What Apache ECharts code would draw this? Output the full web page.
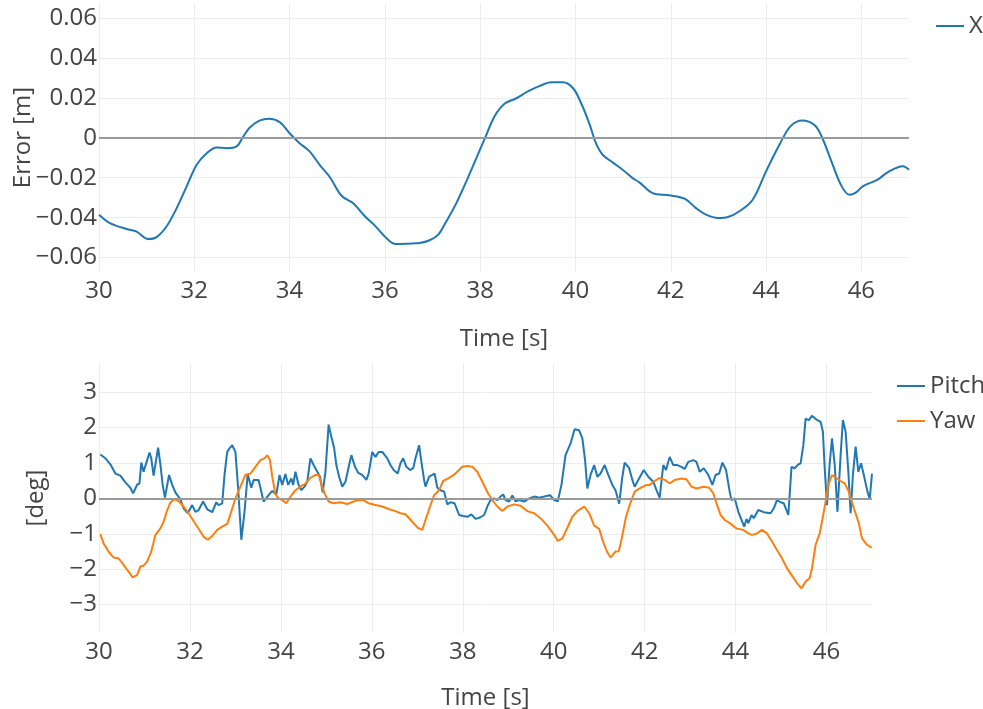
<!DOCTYPE html>
<html>
<head>
<meta charset="utf-8">
<script src="https://cdn.jsdelivr.net/npm/echarts@6/dist/echarts.min.js"></script>
<style>
html,body{margin:0;padding:0;background:#fff;}
#chart{width:983px;height:709px;}
</style>
</head>
<body>
<div id="chart"></div>
<script>
// ---------- Data ----------
var tX = [30.0,30.23,30.58,30.79,31.03,31.21,31.42,31.63,31.84,32.05,
32.26,32.47,32.68,32.89,33.03,33.17,33.38,33.57,33.80,34.0,
34.21,34.42,34.63,34.84,35.09,35.33,35.58,35.79,36.03,36.23,
36.49,36.73,36.94,37.12,37.29,37.50,37.71,37.92,38.13,38.30,
38.51,38.76,39.0,39.25,39.49,39.74,39.95,40.12,40.30,40.43,
40.57,40.78,40.99,41.20,41.34,41.62,41.97,42.29,42.53,42.74,
42.99,43.20,43.44,43.72,44.0,44.28,44.52,44.77,45.01,45.15,
45.36,45.57,45.75,45.89,46.03,46.34,46.55,46.87,47.0];
var errX = [-0.0385,-0.0427,-0.0457,-0.047,-0.0507,-0.0497,-0.0443,-0.0352,-0.0243,-0.0135,
-0.0077,-0.0048,-0.0052,-0.0043,0.0007,0.0053,0.0087,0.0095,0.0077,0.0023,
-0.0027,-0.0068,-0.0135,-0.0195,-0.029,-0.0327,-0.0393,-0.044,-0.0502,-0.0532,
-0.053,-0.0527,-0.0513,-0.0485,-0.0418,-0.0327,-0.0218,-0.0102,0.0015,0.0107,
0.017,0.0198,0.0232,0.026,0.0278,0.0278,0.0248,0.0173,0.0065,-0.0027,
-0.0085,-0.0123,-0.016,-0.0202,-0.0223,-0.0277,-0.0288,-0.0305,-0.0352,-0.0385,
-0.0402,-0.0397,-0.0368,-0.031,-0.0168,-0.0035,0.006,0.0087,0.0065,0.0015,
-0.011,-0.0235,-0.0285,-0.0273,-0.0243,-0.021,-0.0173,-0.0143,-0.016];

var pitchT = [
30.03,30.14,30.25,30.36,30.47,30.58,30.69,30.75,30.84,30.89,
30.93,30.98,31.02,31.11,31.15,31.20,31.30,31.35,31.40,31.45,
31.54,31.61,31.68,31.79,31.86,31.95,32.05,32.12,32.19,32.29,
32.38,32.49,32.58,32.63,32.71,32.76,32.82,32.87,32.93,33.00,
33.06,33.13,33.20,33.27,33.35,33.40,33.51,33.62,33.73,33.81,
33.90,33.97,34.03,34.10,34.16,34.23,34.27,34.32,34.39,34.45,
34.52,34.58,34.65,34.72,34.78,34.86,34.92,34.98,35.05,35.11,
35.17,35.22,35.28,35.35,35.42,35.50,35.55,35.63,35.70,35.79,
35.88,35.93,36.01,36.08,36.15,36.23,36.34,36.41,36.48,36.57,
36.63,36.69,36.76,36.84,36.91,36.96,37.04,37.09,37.15,37.18,
37.26,37.33,37.38,37.44,37.51,37.59,37.66,37.73,37.82,37.92,
38.01,38.10,38.19,38.28,38.38,38.47,38.55,38.61,38.69,38.76,
38.83,38.89,38.94,39.02,39.09,39.16,39.24,39.35,39.46,39.57,
39.68,39.79,39.92,40.01,40.09,40.17,40.26,40.37,40.46,40.56,
40.63,40.69,40.74,40.81,40.89,40.96,41.03,41.12,41.20,41.29,
41.36,41.44,41.51,41.56,41.66,41.73,41.78,41.86,41.98,42.08,
42.19,42.26,42.33,42.41,42.47,42.55,42.63,42.72,42.81,42.88,
42.96,43.07,43.14,43.21,43.30,43.40,43.49,43.56,43.64,43.71,
43.79,43.87,43.91,43.98,44.06,44.13,44.19,44.24,44.28,44.35,
44.40,44.50,44.62,44.77,44.84,44.91,44.99,45.06,45.16,45.23,
45.30,45.38,45.43,45.49,45.54,45.61,45.68,45.77,45.87,45.92,
45.96,46.01,46.07,46.12,46.18,46.24,46.31,46.36,46.42,46.48,
46.53,46.58,46.64,46.70,46.76,46.82,46.90,46.95,47.00];
var pitch = [
1.24,1.13,0.96,0.70,0.64,0.45,0.30,0.14,0.39,0.42,
1.01,0.75,0.70,1.29,1.13,0.64,1.43,0.96,0.38,0.02,
0.66,0.38,0.17,-0.03,-0.28,-0.42,-0.19,-0.38,-0.33,-0.09,
-0.31,-0.39,-0.11,-0.19,-0.14,0.66,1.31,1.41,1.50,1.31,
0.28,-1.17,-0.38,0.68,0.30,0.52,0.52,-0.09,0.09,0.21,
0.11,0.66,0.38,0.69,0.38,0.56,0.38,0.75,0.38,0.23,
0.33,0.47,1.13,0.94,0.80,0.61,0.17,0.75,2.08,1.74,
1.43,0.94,0.61,0.33,0.47,0.94,1.22,0.89,0.72,0.66,
0.52,0.70,1.31,1.17,1.31,1.31,1.13,0.94,0.80,0.70,
0.99,1.13,0.89,0.80,0.85,1.13,1.50,1.03,0.52,0.33,
0.61,0.66,0.70,0.30,0.23,0.19,-0.17,-0.11,-0.14,-0.47,
-0.50,-0.52,-0.45,-0.58,-0.54,-0.47,-0.20,-0.05,0.00,-0.05,
0.05,0.11,-0.05,-0.09,0.08,-0.08,-0.05,-0.09,0.00,0.05,
0.02,0.05,0.09,-0.05,-0.08,0.38,1.22,1.55,1.95,1.92,
1.69,1.08,0.28,0.66,0.94,0.61,0.70,0.94,0.66,0.38,
0.23,-0.15,0.61,1.01,0.85,0.52,0.33,0.52,0.80,0.61,
0.47,0.23,0.02,0.94,0.80,1.17,0.94,0.94,0.89,0.83,
1.03,1.08,1.03,0.75,0.85,0.66,0.38,0.66,0.70,1.01,
0.80,0.19,-0.05,0.00,-0.38,-0.61,-0.80,-0.58,-0.70,-0.47,
-0.56,-0.33,-0.39,-0.42,-0.28,-0.05,-0.11,-0.14,-0.47,0.89,
0.85,0.96,0.99,1.50,2.25,2.21,2.33,2.23,2.16,1.88,
0.85,-0.19,0.99,1.69,0.94,-0.38,1.22,2.21,1.88,0.75,
-0.42,0.66,1.46,0.75,0.99,0.66,0.19,-0.02,0.70];

var yawT = [
30.03,30.10,30.21,30.32,30.43,30.54,30.65,30.74,30.84,30.91,
30.98,31.06,31.15,31.24,31.35,31.42,31.50,31.57,31.66,31.75,
31.86,31.97,32.08,32.19,32.30,32.39,32.49,32.60,32.71,32.82,
32.89,33.00,33.11,33.22,33.33,33.44,33.55,33.64,33.70,33.76,
33.81,33.88,33.95,34.03,34.12,34.21,34.32,34.43,34.54,34.65,
34.76,34.83,34.89,34.96,35.05,35.16,35.31,35.46,35.60,35.72,
35.82,35.93,36.08,36.23,36.37,36.52,36.63,36.74,36.89,37.01,
37.11,37.18,37.28,37.37,37.48,37.57,37.70,37.84,37.99,38.10,
38.21,38.32,38.43,38.54,38.65,38.76,38.87,38.98,39.13,39.27,
39.42,39.57,39.71,39.86,40.01,40.09,40.19,40.30,40.41,40.52,
40.67,40.78,40.89,41.00,41.07,41.17,41.25,41.36,41.43,41.49,
41.59,41.67,41.78,41.89,42.04,42.11,42.22,42.33,42.44,42.55,
42.66,42.81,42.92,43.03,43.14,43.29,43.42,43.51,43.58,43.67,
43.76,43.87,44.02,44.17,44.28,44.36,44.47,44.58,44.69,44.80,
44.91,45.02,45.13,45.24,45.35,45.45,45.54,45.63,45.68,45.76,
45.85,45.94,46.04,46.12,46.21,46.31,46.40,46.49,46.60,46.71,
46.78,46.89,46.99];
var yaw = [
-1.01,-1.27,-1.50,-1.67,-1.69,-1.88,-2.07,-2.23,-2.16,-1.92,
-1.90,-1.78,-1.50,-1.03,-0.85,-0.66,-0.33,-0.12,-0.02,-0.08,
-0.23,-0.42,-0.64,-0.86,-1.08,-1.17,-1.06,-0.89,-0.80,-0.72,
-0.45,0.00,0.33,0.66,0.70,0.89,1.08,1.13,1.22,1.08,
0.61,0.11,0.00,-0.05,-0.14,0.05,0.23,0.33,0.42,0.58,
0.66,0.66,0.42,0.14,-0.09,-0.14,-0.11,-0.16,-0.09,-0.05,
-0.05,-0.14,-0.19,-0.23,-0.30,-0.36,-0.42,-0.45,-0.66,-0.83,
-0.89,-0.61,-0.23,0.09,0.23,0.49,0.58,0.70,0.89,0.91,
0.89,0.75,0.47,0.18,-0.05,-0.23,-0.36,-0.23,-0.17,-0.21,
-0.36,-0.42,-0.56,-0.77,-1.03,-1.20,-1.13,-0.83,-0.52,-0.36,
-0.23,-0.42,-0.77,-0.86,-1.17,-1.50,-1.67,-1.50,-1.49,-1.17,
-0.52,-0.19,0.19,0.28,0.38,0.38,0.49,0.58,0.52,0.42,
0.52,0.56,0.54,0.33,0.28,0.33,0.30,0.14,-0.14,-0.47,
-0.61,-0.70,-0.85,-0.89,-0.99,-1.03,-0.99,-0.89,-0.99,-1.22,
-1.46,-1.69,-1.97,-2.18,-2.39,-2.54,-2.35,-2.25,-1.97,-1.31,
-0.99,-0.38,0.38,0.66,0.58,0.49,0.42,0.19,-0.28,-0.70,
-1.13,-1.31,-1.39];

var seriesNames = ['X', 'Pitch', 'Yaw'];
var axisTitles = { topY: 'Error [m]', bottomY: '[deg]', x: 'Time [s]' };

// ---------- Helpers ----------
function zip(a, b) {
  var n = Math.min(a.length, b.length), out = [];
  for (var i = 0; i < n; i++) out.push([a[i], b[i]]);
  return out;
}
var MINUS = '\u2212';
function fmtTop(v) {
  if (Math.abs(v) < 1e-9) return '0';
  return (v < 0 ? MINUS : '') + Math.abs(v).toFixed(2);
}
function fmtInt(v) {
  if (Math.abs(v) < 1e-9) return '0';
  return (v < 0 ? MINUS : '') + Math.abs(Math.round(v));
}

var FONT = '"Open Sans", "DejaVu Sans", sans-serif';
var FS = 24;
var TXT = '#444';
var GRIDC = '#ececec';
var BLUE = '#1f77b4', ORANGE = '#ff7f0e';

function xAxisCfg(gridIndex, gap) {
  return {
    type: 'value', gridIndex: gridIndex, min: 30, max: 47, interval: 2,
    name: axisTitles.x, nameLocation: 'middle', nameGap: gap, nameMoveOverlap: false,
    nameTextStyle: { fontFamily: FONT, fontSize: FS, color: TXT },
    axisLine: { show: false }, axisTick: { show: false },
    axisLabel: { fontFamily: FONT, fontSize: FS, color: TXT, margin: 7, showMaxLabel: false,
                 alignMinLabel: 'center', hideOverlap: false },
    splitLine: { show: true, showMaxLine: false, showMinLine: true, lineStyle: { color: GRIDC, width: 1 } }
  };
}

var chart = echarts.init(document.getElementById('chart'), null, { renderer: 'canvas' });
var option = {
  animation: false,
  backgroundColor: '#fff',
  textStyle: { fontFamily: FONT },
  grid: [
    { left: 99, right: 74, top: 3, height: 269, containLabel: false, outerBoundsMode: 'none' },
    { left: 99, right: 111, top: 363, height: 270, containLabel: false, outerBoundsMode: 'none' }
  ],
  xAxis: [ xAxisCfg(0, 55), xAxisCfg(1, 53) ],
  yAxis: [
    {
      type: 'value', gridIndex: 0, min: -0.0672, max: 0.0675, splitNumber: 7,
      name: axisTitles.topY, nameLocation: 'middle', nameGap: 64, nameMoveOverlap: false,
      nameTextStyle: { fontFamily: FONT, fontSize: FS, color: TXT },
      axisLine: { show: false }, axisTick: { show: false },
      axisLabel: { fontFamily: FONT, fontSize: FS, color: TXT, margin: 2, showMinLabel: false, showMaxLabel: false, formatter: fmtTop },
      splitLine: { show: true, showMinLine: false, showMaxLine: false, lineStyle: { color: GRIDC, width: 1 } }
    },
    {
      type: 'value', gridIndex: 1, min: -3.8, max: 3.82, splitNumber: 8,
      name: axisTitles.bottomY, nameLocation: 'middle', nameGap: 51, nameMoveOverlap: false,
      nameTextStyle: { fontFamily: FONT, fontSize: FS, color: TXT },
      axisLine: { show: false }, axisTick: { show: false },
      axisLabel: { fontFamily: FONT, fontSize: FS, color: TXT, margin: 2, showMinLabel: false, showMaxLabel: false, formatter: fmtInt },
      splitLine: { show: true, showMinLine: false, showMaxLine: false, lineStyle: { color: GRIDC, width: 1 } }
    }
  ],
  legend: [
    {
      data: [seriesNames[0]], left: 931, top: 9, orient: 'vertical',
      icon: 'rect', itemWidth: 28, itemHeight: 2,
      textStyle: { fontFamily: FONT, fontSize: FS, color: TXT }
    },
    {
      data: [seriesNames[1], seriesNames[2]], left: 892, top: 369, orient: 'vertical',
      icon: 'rect', itemWidth: 28, itemHeight: 2, itemGap: 11,
      textStyle: { fontFamily: FONT, fontSize: FS, color: TXT }
    }
  ],
  series: [
    {
      type: 'line', name: '__zero0', xAxisIndex: 0, yAxisIndex: 0, data: [], z: 1,
      markLine: { silent: true, symbol: 'none', label: { show: false },
        lineStyle: { color: '#9a9a9a', width: 2, type: 'solid' }, data: [{ yAxis: 0 }] }
    },
    {
      type: 'line', name: '__zero1', xAxisIndex: 1, yAxisIndex: 1, data: [], z: 1,
      markLine: { silent: true, symbol: 'none', label: { show: false },
        lineStyle: { color: '#9a9a9a', width: 2, type: 'solid' }, data: [{ yAxis: 0 }] }
    },
    {
      type: 'line', name: seriesNames[0], xAxisIndex: 0, yAxisIndex: 0, z: 3,
      data: zip(tX, errX), showSymbol: false, symbol: 'none', smooth: 0.35,
      lineStyle: { color: BLUE, width: 2 }, itemStyle: { color: BLUE }
    },
    {
      type: 'line', name: seriesNames[1], xAxisIndex: 1, yAxisIndex: 1, z: 3,
      data: zip(pitchT, pitch), showSymbol: false, symbol: 'none',
      lineStyle: { color: BLUE, width: 2 }, itemStyle: { color: BLUE }
    },
    {
      type: 'line', name: seriesNames[2], xAxisIndex: 1, yAxisIndex: 1, z: 3,
      data: zip(yawT, yaw), showSymbol: false, symbol: 'none',
      lineStyle: { color: ORANGE, width: 2 }, itemStyle: { color: ORANGE }
    }
  ]
};
chart.setOption(option);
</script>
</body>
</html>
